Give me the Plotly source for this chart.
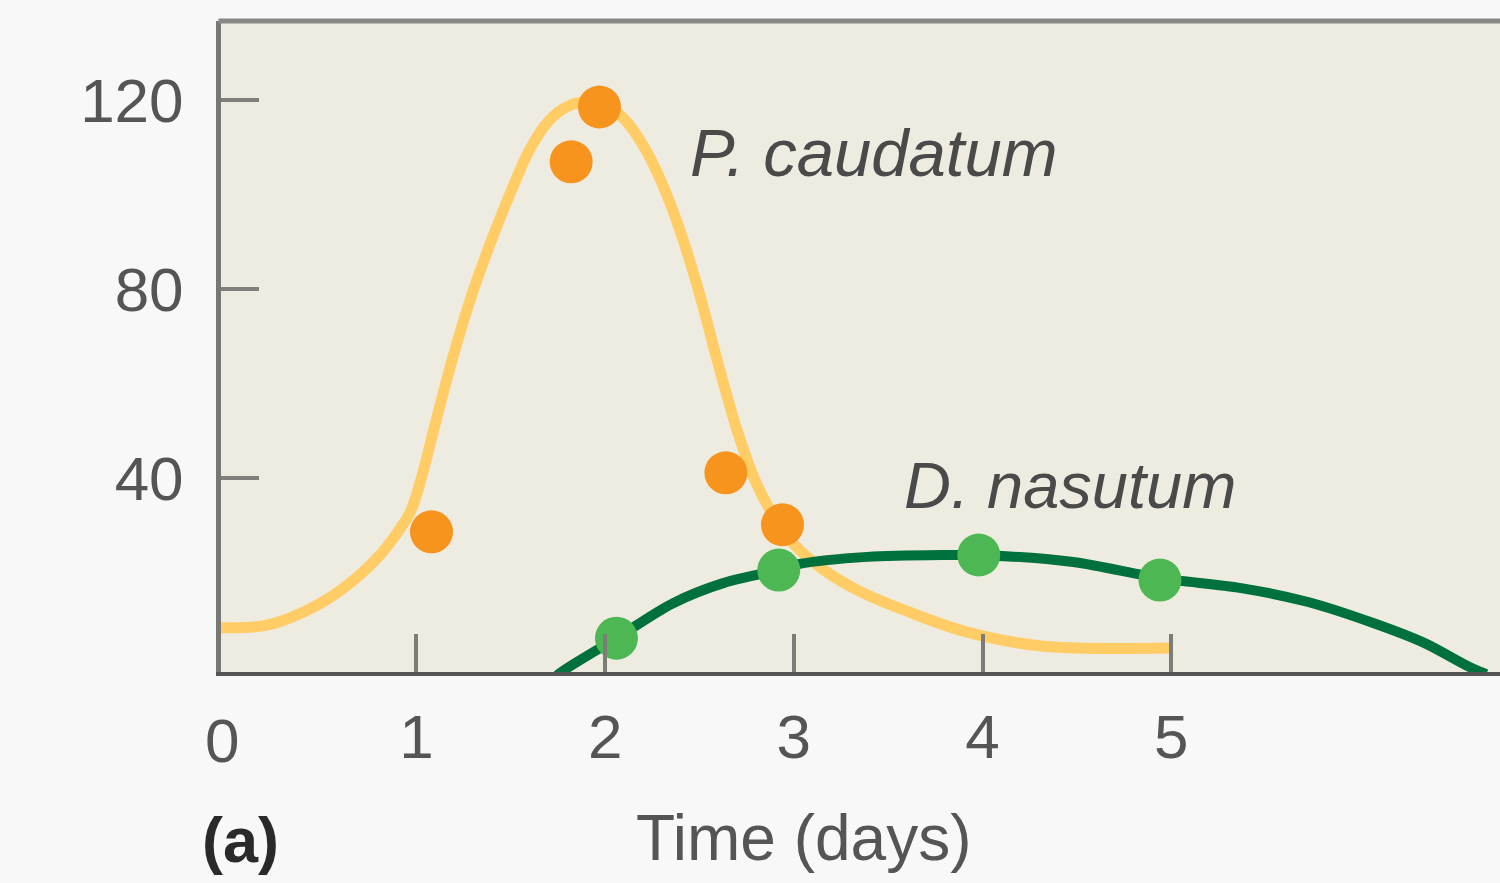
import plotly.graph_objects as go

# ---- data ----
x_ticks = [1, 2, 3, 4, 5]
y_ticks = [40, 80, 120]

p_curve_x = [-0.04, 0.20, 0.40, 0.60, 0.80, 0.90, 0.97, 1.03, 1.10, 1.20, 1.30, 1.40, 1.50, 1.60,
             1.70, 1.80, 1.90, 2.00, 2.10, 2.20, 2.30, 2.40, 2.50, 2.60, 2.70, 2.80, 2.90, 3.00,
             3.15, 3.35, 3.60, 3.90, 4.30, 4.99]
p_curve_y = [8.3, 8.8, 11.6, 16.3, 23.4, 28.5, 33.0, 40.5, 51.5, 66.5, 79.5, 90.5, 100.5, 109.5,
             115.5, 118.6, 119.6, 119.0, 116.0, 110.5, 102.5, 92.0, 79.0, 64.0, 50.0, 39.0, 31.5, 26.0,
             20.8, 16.0, 11.8, 7.6, 4.5, 4.0]
p_obs_x = [1.08, 1.82, 1.97, 2.64, 2.94]
p_obs_y = [28.6, 106.9, 118.5, 41.1, 30.1]

d_curve_x = [1.73, 1.76, 2.06, 2.36, 2.63, 2.92, 3.03, 3.39, 3.83, 3.98, 4.48, 4.94, 5.37, 5.72,
             6.07, 6.34, 6.58, 6.67]
d_curve_y = [-2.5, -1.3, 6.1, 13.5, 17.8, 20.5, 21.8, 23.3, 23.7, 23.7, 22.2, 18.8, 16.7, 13.8,
             9.3, 5.1, 0.0, -1.5]
d_obs_x = [2.06, 2.92, 3.98, 4.94]
d_obs_y = [6.1, 20.5, 23.7, 18.4]

FONT = "Liberation Sans, Arial, Helvetica, sans-serif"

fig = go.Figure()
fig.add_trace(go.Scatter(x=p_curve_x, y=p_curve_y, mode="lines",
                         line=dict(color="#FFCC66", width=11, shape="spline", smoothing=1.0),
                         hoverinfo="skip", name="P. caudatum fit"))
fig.add_trace(go.Scatter(x=p_obs_x, y=p_obs_y, mode="markers",
                         marker=dict(color="#F7941D", size=43, line=dict(width=0)),
                         name="P. caudatum"))
fig.add_trace(go.Scatter(x=d_curve_x, y=d_curve_y, mode="lines",
                         line=dict(color="#00703C", width=10, shape="spline", smoothing=0.9),
                         hoverinfo="skip", name="D. nasutum fit"))
fig.add_trace(go.Scatter(x=d_obs_x, y=d_obs_y, mode="markers",
                         marker=dict(color="#4DB853", size=43, line=dict(width=0)),
                         name="D. nasutum"))

fig.update_layout(
    width=1500, height=883,
    margin=dict(l=221, r=0, t=21, b=211, pad=0),
    paper_bgcolor="#F8F8F8",
    plot_bgcolor="#EEECE1",
    showlegend=False,
    font=dict(family=FONT, color="#555555"),
    xaxis=dict(
        range=[-0.0355, 6.742], tickvals=x_ticks, ticktext=[str(v) for v in x_ticks],
        showgrid=False, zeroline=False,
        showline=True, linecolor="#555555", linewidth=4,
        ticks="inside", ticklen=38, tickwidth=4, tickcolor="#7d7c78",
        tickfont=dict(size=62, color="#555555"), ticklabelstandoff=8,
    ),
    yaxis=dict(
        range=[-1.06, 136.7], tickvals=y_ticks, ticktext=[str(v) for v in y_ticks],
        showgrid=False, zeroline=False,
        showline=True, linecolor="#777775", linewidth=5,
        ticks="inside", ticklen=38, tickwidth=4, tickcolor="#807f7b",
        tickfont=dict(size=62, color="#555555"), ticklabelstandoff=20,
    ),
    shapes=[dict(type="line", xref="paper", yref="paper", x0=-0.002, x1=1, y0=1, y1=1,
                 line=dict(color="#8a8985", width=5), layer="above")],
    annotations=[
        dict(text="<i>P. caudatum</i>", x=2.44, y=108.8, xref="x", yref="y",
             xanchor="left", yanchor="middle", showarrow=False,
             font=dict(size=67, color="#4a4a4a", family=FONT)),
        dict(text="<i>D. nasutum</i>", x=3.575, y=38.5, xref="x", yref="y",
             xanchor="left", yanchor="middle", showarrow=False,
             font=dict(size=65, color="#4a4a4a", family=FONT)),
        dict(text="0", x=-0.03, y=-0.1045, xref="x", yref="paper",
             xanchor="center", yanchor="middle", showarrow=False,
             font=dict(size=62, color="#555555", family=FONT)),
        dict(text="Time (days)", x=3.05, y=-0.255, xref="x", yref="paper",
             xanchor="center", yanchor="middle", showarrow=False,
             font=dict(size=64, color="#555555", family=FONT)),
        dict(text="<b>(a)</b>", x=0.0156, y=-0.258, xref="paper", yref="paper",
             xanchor="center", yanchor="middle", showarrow=False,
             font=dict(size=63, color="#2a2a2a", family=FONT)),
    ],
)

fig.write_html(
    "out.html",
    config={"displayModeBar": False},
    post_script="document.body.style.margin='0';document.body.style.background='#F8F8F8';"
                "document.body.style.overflow='hidden';",
)
